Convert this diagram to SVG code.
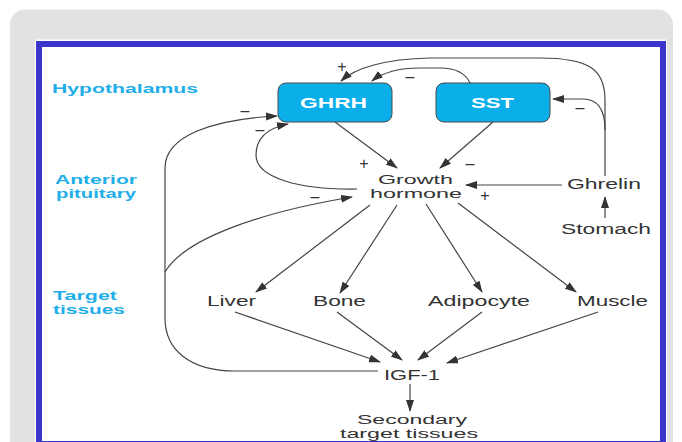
<svg xmlns="http://www.w3.org/2000/svg" width="682" height="442" viewBox="0 0 682 442">
<defs>
<marker id="ah" markerUnits="userSpaceOnUse" markerWidth="12" markerHeight="8" refX="11" refY="4" orient="auto">
<path d="M0,0 L12,4 L0,8 z" fill="#333"/>
</marker>
<style>
.lbl{font-family:"Liberation Sans",Arial,sans-serif;font-size:14px;fill:#333;}
.two{font-size:12.5px;}
.reg{font-family:"Liberation Sans",Arial,sans-serif;font-size:13.5px;fill:#22aee8;font-weight:bold;}
.box{fill:#0aaee8;stroke:#4a4a4a;stroke-width:1;}
.bt{font-family:"Liberation Sans",Arial,sans-serif;font-size:14.5px;fill:#fff;font-weight:bold;}
.sg{font-family:"Liberation Sans",Arial,sans-serif;font-size:16px;fill:#333;text-anchor:middle;}
.c{fill:none;stroke:#444;stroke-width:1.2;}
.a{marker-end:url(#ah);}
</style>
</defs>
<rect x="0" y="0" width="682" height="442" fill="#fff"/>
<rect x="10" y="9.5" width="663" height="460" rx="15" fill="#e2e2e2"/>
<rect x="35" y="39.5" width="632" height="410" fill="#fff"/>
<rect x="39" y="44" width="624" height="400" fill="#fff" stroke="#3b35cc" stroke-width="6"/>

<g id="regions">
<text class="reg" x="52" y="93" textLength="146" lengthAdjust="spacingAndGlyphs">Hypothalamus</text>
<text class="reg two" x="55" y="183.5" textLength="82" lengthAdjust="spacingAndGlyphs">Anterior</text>
<text class="reg two" x="56" y="197.5" textLength="80" lengthAdjust="spacingAndGlyphs">pituitary</text>
<text class="reg two" x="53" y="300" textLength="64" lengthAdjust="spacingAndGlyphs">Target</text>
<text class="reg two" x="53" y="314" textLength="72" lengthAdjust="spacingAndGlyphs">tissues</text>
</g>

<g id="connectors">
<path class="c a" d="M335 122 L397 168"/>
<path class="c a" d="M493 122 L440 168"/>
<path class="c a" d="M562 185 L466 185"/>
<path class="c a" d="M605 218 L605 197"/>
<path class="c a" d="M605 176 L605 100 C605 70 590 58 540 58 L430 58 C385 59 355 68 341 81"/>
<path class="c a" d="M605 130 C605 108 597 99 583 99 L553 99"/>
<path class="c a" d="M470 83 C465 72 455 68 440 68 L420 68 C398 68 382 73 372 81"/>
<path class="c a" d="M357 189 C300 190 256 178 256 155 C256 138 268 128 288 124"/>
<path class="c a" d="M370 205 L256 292"/>
<path class="c a" d="M397 205 L340 293"/>
<path class="c a" d="M426 204 L482 292"/>
<path class="c a" d="M458 203 L576 292"/>
<path class="c a" d="M235 312 L380 362"/>
<path class="c a" d="M337 312 L402 360"/>
<path class="c a" d="M482 312 L418 360"/>
<path class="c a" d="M598 312 L447 363"/>
<path class="c a" d="M410 384 L410 411"/>
<path class="c a" d="M378 371 L235 371 C190 371 165 350 165 318 L165 168 C165 135 215 119 277 116"/>
<path class="c a" d="M165 272 C185 238 262 212 352 197"/>
</g>

<g id="signs">
<text class="sg" x="342" y="72">+</text>
<text class="sg" x="410" y="82">–</text>
<text class="sg" x="580" y="113">–</text>
<text class="sg" x="245" y="116">–</text>
<text class="sg" x="260" y="135">–</text>
<text class="sg" x="364" y="169">+</text>
<text class="sg" x="470" y="169">–</text>
<text class="sg" x="315" y="202">–</text>
<text class="sg" x="485" y="201">+</text>
</g>

<g id="ghrh">
<rect class="box" x="278" y="83" width="114" height="39" rx="8"/>
<text class="bt" x="300" y="108" textLength="67" lengthAdjust="spacingAndGlyphs">GHRH</text>
</g>
<g id="sst">
<rect class="box" x="436" y="83" width="114" height="39" rx="8"/>
<text class="bt" x="471" y="108" textLength="43" lengthAdjust="spacingAndGlyphs">SST</text>
</g>
<g id="growth-hormone">
<text class="lbl two" x="378" y="183.5" textLength="75" lengthAdjust="spacingAndGlyphs">Growth</text>
<text class="lbl two" x="370" y="197.5" textLength="92" lengthAdjust="spacingAndGlyphs">hormone</text>
</g>
<g id="ghrelin">
<text class="lbl" x="567" y="189" textLength="74" lengthAdjust="spacingAndGlyphs">Ghrelin</text>
</g>
<g id="stomach">
<text class="lbl" x="561" y="234" textLength="90" lengthAdjust="spacingAndGlyphs">Stomach</text>
</g>
<g id="liver">
<text class="lbl" x="207" y="306" textLength="49" lengthAdjust="spacingAndGlyphs">Liver</text>
</g>
<g id="bone">
<text class="lbl" x="313" y="306" textLength="53" lengthAdjust="spacingAndGlyphs">Bone</text>
</g>
<g id="adipocyte">
<text class="lbl" x="428" y="306" textLength="102" lengthAdjust="spacingAndGlyphs">Adipocyte</text>
</g>
<g id="muscle">
<text class="lbl" x="577" y="306" textLength="71" lengthAdjust="spacingAndGlyphs">Muscle</text>
</g>
<g id="igf1">
<text class="lbl" x="384" y="380" textLength="56" lengthAdjust="spacingAndGlyphs">IGF-1</text>
</g>
<g id="secondary">
<text class="lbl two" x="357" y="423.5" textLength="110" lengthAdjust="spacingAndGlyphs">Secondary</text>
<text class="lbl two" x="340" y="437.5" textLength="138" lengthAdjust="spacingAndGlyphs">target tissues</text>
</g>
</svg>
